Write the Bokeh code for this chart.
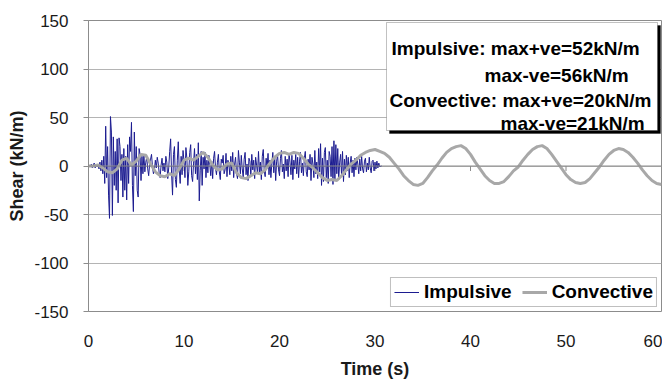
from bokeh.plotting import figure
from bokeh.models import (ColumnDataSource, Legend, LegendItem, Span, Label,
                          BoxAnnotation, FixedTicker, Range1d)
from bokeh.embed import file_html
from bokeh.resources import INLINE

# ---------------- data ----------------
IMP_DT = 0.1
impulsive = [
    0, 1, -1, 2, -2, 1, 3, -2, 2, -1,
    2, -3, 4, -5, 6, -8, 10, -18, 41, -12,
    20, -30, -54, 51, 35, -51, 30, -20, 15, -25,
    28, -38, 29, 20, -15, 12, -32, 18, -25, 10,
    -35, 22, -18, 30, 15, 45, -20, -47, 35, -10,
    20, -25, -32, 18, 12, -15, 10, -8, 12, -6,
    4, 9, -3, -10, 2, 7, 12, -1, -8, -4,
    6, -2, 9, 3, -7, -12, 1, 8, -5, 3,
    -6, 10, 4, -13, -2, 15, 28, -8, -30, 12,
    20, -14, -22, 6, 25, -4, -18, 10, -9, 16,
    5, -12, 19, 8, -20, -6, 14, 22, -10, -16,
    3, 18, -8, 12, -14, 24, -36, -5, 15, -20,
    9, -3, 14, -12, 6, -7, 11, 2, -10, 5,
    -13, 8, 15, -2, -9, 4, 12, -6, -14, 7,
    3, 11, -8, -4, 13, -11, 6, 1, -9, 10,
    -5, 14, -12, 2, 9, -7, -13, 16, 4, -8,
    11, -3, -12, 7, 14, -9, 2, -15, 8, 5,
    -10, 12, -4, 6, -13, 9, 1, -8, 15, -6,
    4, -14, 10, 17, -5, -11, 8, -2, 13, -9,
    6, -12, 3, 14, -7, 9, -15, 5, 11, -4,
    -10, 8, 16, -6, 2, -13, 10, -5, 7, -11,
    13, 4, -9, 11, -14, 6, -3, 12, -8, 9,
    -12, 5, 14, -7, 3, -10, 8, 15, -6, -11,
    7, -4, 12, -15, 9, 2, -12, 16, -8, 4,
    -13, 18, -6, 23, -20, 8, -16, 14, 19, -12,
    6, -18, 15, 10, -11, 20, -19, 26, -15, 22,
    -8, 18, -14, 4, 12, -10, 15, -16, 7, -9,
    11, -5, 9, -12, 3, 10, -7, 6, -11, 8,
    -4, 9, 2, -8, 7, -5, 10, -3, -7, 5,
    8, -6, 3, -4, 9, -2, -7, 5, 6, -5,
    4, -3, 5, -2, 3, -1, 0, 0,
]
imp_time = [round(i * IMP_DT, 2) for i in range(len(impulsive))]

CONV_DT = 0.5
convective = [
    0, 0, 1, -2, -6, -7, -3, 6, 8, 1,
    5, 12, 11, 2, -6, -10, -11, -8, -10, -3,
    6, 8, 6, 10, 14, 9, 1, -4, -3, 2,
    3, -7, -12, -13, -10, -7, -8, -4, 3, 9,
    13, 14, 12, 14, 13, 8, 2, -2, -7, -12,
    -15, -14, -15, -10, -4, 2, 6, 11, 14, 16,
    17, 15, 13, 9, 3, -3, -10, -15, -19, -20,
    -18, -12, -5, 1, 8, 14, 18, 20, 21, 18,
    12, 4, -3, -10, -15, -18, -18, -16, -11, -5,
    -1, 6, 12, 17, 20, 21, 18, 12, 5, -2,
    -9, -14, -17, -18, -17, -13, -7, -1, 6, 12,
    16, 18, 17, 14, 9, 3, -4, -10, -15, -18,
    -19,
]
conv_time = [round(i * CONV_DT, 2) for i in range(len(convective))]

x_ticks = [0, 10, 20, 30, 40, 50, 60]
y_ticks = [-150, -100, -50, 0, 50, 100, 150]
y_tick_labels = ["-150", "-100", "-50", "0", "50", "100", "150"]
x_title = "Time (s)"
y_title = "Shear (kN/m)"
series_names = ["Impulsive", "Convective"]
note_lines = ["Impulsive: max+ve=52kN/m", "max-ve=56kN/m",
              "Convective: max+ve=20kN/m", "max-ve=21kN/m"]

FONT = "Liberation Sans"
GRID = "#b4b4b4"
AXIS = "#8c8c8c"

FW, FH = 573, 291          # frame size in px

p = figure(frame_width=FW, frame_height=FH, output_backend="svg", toolbar_location=None,
           x_range=Range1d(0, 60), y_range=Range1d(-150, 150),
           min_border_left=88, min_border_right=1, min_border_top=20,
           min_border_bottom=66)
p.background_fill_color = "white"
p.border_fill_color = "white"
p.outline_line_color = AXIS
p.outline_line_width = 1

p.xgrid.grid_line_color = None
p.ygrid.grid_line_color = GRID
p.ygrid.ticker = FixedTicker(ticks=y_ticks)

p.yaxis.ticker = FixedTicker(ticks=y_ticks)
p.yaxis.major_label_overrides = {t: s for t, s in zip(y_ticks, y_tick_labels)}
p.yaxis.axis_line_color = AXIS
p.yaxis.major_tick_line_color = AXIS
p.yaxis.major_tick_out = 5
p.yaxis.major_tick_in = 0
p.yaxis.minor_tick_line_color = None
p.yaxis.major_label_standoff = 15
p.yaxis.major_label_text_font = FONT
p.yaxis.major_label_text_font_size = "17px"
p.yaxis.major_label_text_color = "#1a1a1a"
p.yaxis.axis_label = y_title
p.yaxis.axis_label_text_font = FONT
p.yaxis.axis_label_text_font_style = "bold"
p.yaxis.axis_label_text_font_size = "18px"
p.yaxis.axis_label_text_color = "#1a1a1a"
p.yaxis.axis_label_standoff = 4

p.xaxis.ticker = FixedTicker(ticks=x_ticks)
p.xaxis.axis_line_color = None
p.xaxis.major_tick_line_color = None
p.xaxis.minor_tick_line_color = None
p.xaxis.major_label_standoff = 17
p.xaxis.major_label_text_font = FONT
p.xaxis.major_label_text_font_size = "17px"
p.xaxis.major_label_text_color = "#1a1a1a"
p.xaxis.axis_label = x_title
p.xaxis.axis_label_text_font = FONT
p.xaxis.axis_label_text_font_style = "bold"
p.xaxis.axis_label_text_font_size = "18px"
p.xaxis.axis_label_text_color = "#1a1a1a"
p.xaxis.axis_label_standoff = 9

p.add_layout(Span(location=0, dimension="width", line_color=AXIS, line_width=1))
tick_len = 5.0 * 300 / FH
p.segment(x0=x_ticks[1:], x1=x_ticks[1:], y0=[0] * 6, y1=[-tick_len] * 6,
          line_color=AXIS, line_width=1)

imp_src = ColumnDataSource(dict(t=imp_time, v=impulsive))
conv_src = ColumnDataSource(dict(t=conv_time, v=convective))
r_imp = p.line("t", "v", source=imp_src, line_color="#1c1c90", line_width=1)
r_conv = p.line("t", "v", source=conv_src, line_color="#a8a8a8", line_width=3)

legend = Legend(items=[LegendItem(label=series_names[0], renderers=[r_imp]),
                       LegendItem(label=series_names[1], renderers=[r_conv])],
                location="bottom_right", orientation="horizontal",
                margin=4, padding=3, spacing=10, glyph_width=25, glyph_height=14,
                label_standoff=5, label_height=14,
                label_text_font=FONT, label_text_font_style="bold",
                label_text_font_size="19px", label_text_color="black",
                border_line_color="#808080", border_line_width=1,
                background_fill_color="white", background_fill_alpha=1)
p.add_layout(legend)

# helpers: offsets (px) from the frame's top-right corner -> data units
def fx(px_from_right):
    return 60 - px_from_right * 60 / FW

def fy(px_from_top):
    return 150 - px_from_top * 300 / FH

# note box: shadow + box
p.add_layout(BoxAnnotation(left=fx(272), right=fx(1), top=fy(5), bottom=fy(113),
                           fill_color="black", fill_alpha=1, line_color="black"))
p.add_layout(BoxAnnotation(left=fx(275), right=fx(4), top=fy(2), bottom=fy(110),
                           fill_color="white", fill_alpha=1, line_color="#333333", line_width=1))
note_dx = [270, 177, 272, 161]
note_dy = [28, 55, 80, 103]
for txt, dx, dy in zip(note_lines, note_dx, note_dy):
    p.add_layout(Label(x=fx(dx), y=fy(dy), text=txt, text_font=FONT,
                       text_font_style="bold", text_font_size="19px",
                       text_color="black", text_baseline="alphabetic", text_align="left"))

open("out.html", "w").write(file_html(p, INLINE))
